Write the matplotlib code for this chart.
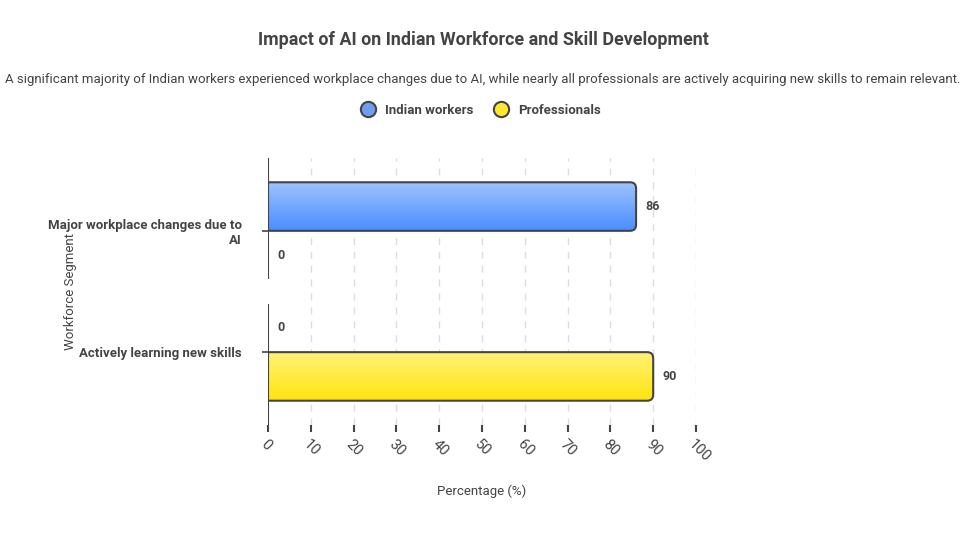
import numpy as np
import matplotlib
matplotlib.use("Agg")
import matplotlib.pyplot as plt
from matplotlib.path import Path
from matplotlib.patches import PathPatch
from matplotlib.lines import Line2D
from matplotlib.colors import LinearSegmentedColormap

plt.rcParams['font.family'] = ['Roboto', 'DejaVu Sans']

# data
categories = ["Major workplace changes due to\nAI", "Actively learning new skills"]
series_names = ["Indian workers", "Professionals"]
indian_workers = [86, 0]
professionals = [0, 90]
x_ticks = list(range(0, 101, 10))

dark = "#444444"
grads = [("#9EC3FF", "#4A8CFF"), ("#FFF278", "#FFE40C")]
legend_cols = ["#6E9EF0", "#FFE631"]

fig = plt.figure(figsize=(9.66, 5.4), dpi=100)
ax = fig.add_axes([0.2774, 0.213, 0.4431, 0.4944])

bar_h = 0.4
rx, ry = 1.4, 0.05


def bar_path(v, y0, y1):
    verts = [(0, y0), (v - rx, y0), (v, y0), (v, y0 + ry), (v, y1 - ry),
             (v, y1), (v - rx, y1), (0, y1), (0, y0)]
    codes = [Path.MOVETO, Path.LINETO, Path.CURVE3, Path.CURVE3, Path.LINETO,
             Path.CURVE3, Path.CURVE3, Path.LINETO, Path.CLOSEPOLY]
    return Path(verts, codes)


for s, vals in enumerate([indian_workers, professionals]):
    cmap = LinearSegmentedColormap.from_list("g%d" % s, grads[s])
    for i, v in enumerate(vals):
        y0 = i - bar_h + s * bar_h
        y1 = y0 + bar_h
        if v > 0:
            patch = PathPatch(bar_path(v, y0, y1), facecolor="none",
                              edgecolor=dark, lw=1.5, zorder=4)
            img = ax.imshow(np.linspace(0, 1, 256).reshape(-1, 1), cmap=cmap,
                            extent=(0, v, y1, y0), aspect="auto",
                            origin="upper", zorder=3)
            ax.add_patch(patch)
            img.set_clip_path(patch)
        ax.text(v + 2.1, (y0 + y1) / 2, str(v), ha="left", va="center",
                fontsize=9, fontweight="bold", color=dark, zorder=5)

ax.set_xlim(0, 100)
ax.set_ylim(1.6, -0.6)

for x in x_ticks[1:]:
    ax.axvline(x, color="#dddddd", lw=1, ls=(0, (5, 5)), zorder=1)

# left axis line (broken between groups)
ax.vlines([0, 0], [-0.6, 0.6], [0.4, 1.6], color=dark, lw=1.5, zorder=5)

for sp in ax.spines.values():
    sp.set_visible(False)

ax.set_xticks(x_ticks)
ax.set_xticklabels([str(x) for x in x_ticks], rotation=-45, ha="left",
                   va="top", rotation_mode="anchor", fontsize=10.5, color=dark)
ax.tick_params(axis="x", length=5, width=1.5, color=dark, pad=4)
ax.set_yticks(range(len(categories)))
ax.set_yticklabels(categories, fontsize=9.5, fontweight="bold", color=dark)
ax.tick_params(axis="y", length=4, width=1.2, color=dark, pad=15)

ax.set_xlabel("Percentage (%)", fontsize=9.5, color=dark)
ax.xaxis.set_label_coords(0.5, -0.222)
ax.set_ylabel("Workforce Segment", fontsize=9.5, color=dark)
ax.yaxis.set_label_coords(-0.445, 0.5)

fig.text(0.5, 1 - 40 / 540, "Impact of AI on Indian Workforce and Skill Development",
         ha="center", va="center", fontsize=12.9, fontweight="bold", color=dark)
fig.text(0.5, 1 - 79 / 540,
         "A significant majority of Indian workers experienced workplace changes due to AI, "
         "while nearly all professionals are actively acquiring new skills to remain relevant.",
         ha="center", va="center", fontsize=9.55, color=dark)

handles = [Line2D([], [], ls="none", marker="o", markersize=11,
                  markerfacecolor=c, markeredgecolor=dark, markeredgewidth=1.5)
           for c in legend_cols]
leg = fig.legend(handles, series_names, loc="center", ncol=2,
                 bbox_to_anchor=(0.495, 1 - 110 / 540), frameon=False,
                 handletextpad=0.3, columnspacing=1.1, prop={"size": 9.5, "weight": "bold"})
for t in leg.get_texts():
    t.set_color(dark)

fig.savefig("out.png", dpi=100)
